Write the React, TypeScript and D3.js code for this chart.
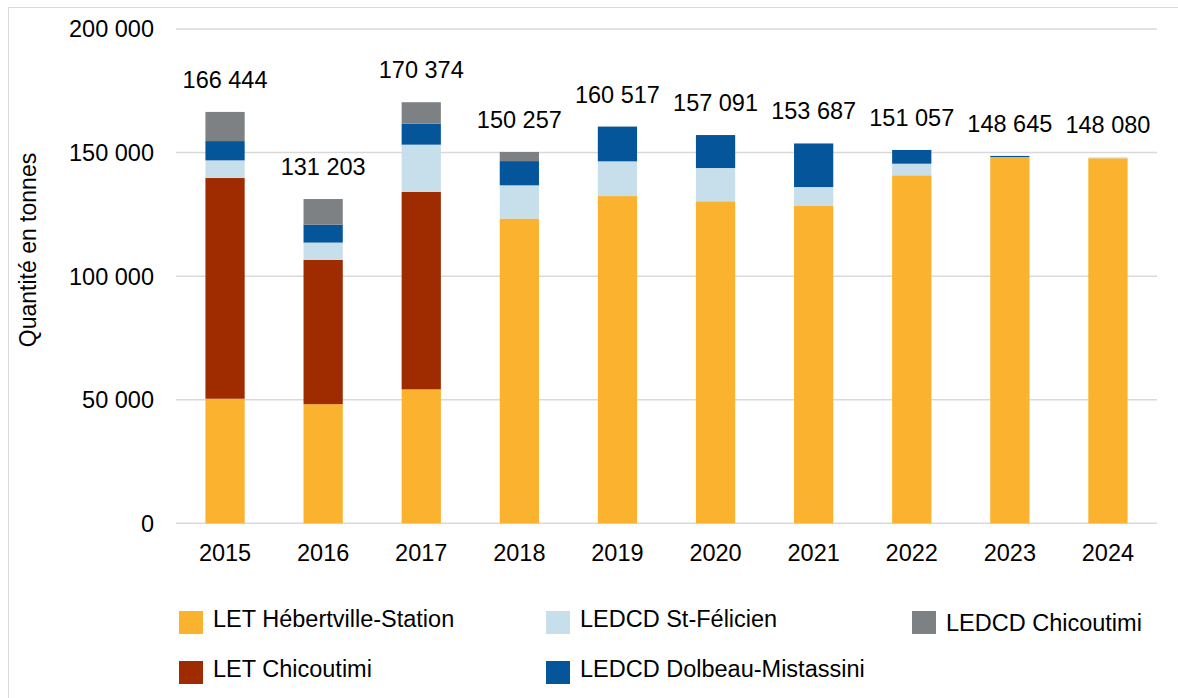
import React from 'react';
import * as d3 from 'd3';

const years = ['2015', '2016', '2017', '2018', '2019', '2020', '2021', '2022', '2023', '2024'];
const hebertville = [50400, 48200, 54200, 123300, 132400, 130300, 128400, 140800, 148200, 147700];
const letChicoutimi = [89300, 58350, 79850, 0, 0, 0, 0, 0, 0, 0];
const stFelicien = [7150, 7030, 19150, 13450, 14050, 13450, 7650, 4700, 0, 380];
const dolbeau = [7800, 7280, 8500, 9800, 14067, 13341, 17637, 5557, 445, 0];
const ledcdChicoutimi = [11794, 10343, 8674, 3707, 0, 0, 0, 0, 0, 0];
const yTicks = [0, 50000, 100000, 150000, 200000];

const seriesNames = [
  'LET Hébertville-Station',
  'LET Chicoutimi',
  'LEDCD St-Félicien',
  'LEDCD Dolbeau-Mistassini',
  'LEDCD Chicoutimi',
];
const seriesValues = [hebertville, letChicoutimi, stFelicien, dolbeau, ledcdChicoutimi];
const colors = ['#FAB22F', '#9E2C00', '#C7DFEA', '#05559A', '#7E8184'];

const W = 1178;
const H = 698;
const FONT = '"Liberation Sans", Arial, sans-serif';

const fmt = d3.formatLocale({ decimal: ',', thousands: ' ', grouping: [3], currency: ['', ' $'] }).format(',d');

export default function App() {
  const rows = years.map((y, i) => {
    const r: Record<string, number | string> = { year: y };
    seriesNames.forEach((n, k) => { r[n] = seriesValues[k][i]; });
    return r;
  });
  const stacked = d3.stack<any>().keys(seriesNames)(rows);
  const totals = years.map((_, i) => d3.sum(seriesValues, s => s[i]));

  const x = d3.scaleBand().domain(years).range([176, 1157]).paddingInner(0.6).paddingOuter(0.3);
  const y = d3.scaleLinear().domain([0, 200000]).range([523.3, 29]);

  // legend layout: [column, row]
  const legendPos: [number, number][] = [[0, 0], [0, 1], [1, 0], [1, 1], [2, 0]];
  const colX = [179, 546, 912];
  const rowY = [611, 661];

  return (
    <div style={{ position: 'absolute', left: 0, top: 0 }}>
      <svg width={W} height={H} style={{ display: 'block', background: '#fff' }} fontFamily={FONT}>
        <rect x={8.5} y={7.5} width={1200} height={720} fill="none" stroke="#d9d9d9" strokeWidth={1} />

        {yTicks.map(t => (
          <g key={t}>
            <line x1={176} x2={1157} y1={y(t)} y2={y(t)} stroke="#d9d9d9" strokeWidth={1.5} />
            <text x={154} y={y(t)} dy="0.36em" textAnchor="end" fontSize={23.5} fill="#000">{fmt(t)}</text>
          </g>
        ))}

        <text transform="translate(35.5,250) rotate(-90)" textAnchor="middle" fontSize={23} fill="#000">
          Quantité en tonnes
        </text>

        {stacked.map((layer, k) => (
          <g key={layer.key} fill={colors[k]}>
            {layer.map((d, i) => {
              const h = y(d[0]) - y(d[1]);
              if (h <= 0) return null;
              return (
                <rect key={i} x={x(years[i])} y={y(d[1])} width={x.bandwidth()} height={h} />
              );
            })}
          </g>
        ))}

        {years.map((yr, i) => (
          <g key={yr}>
            <text x={(x(yr) ?? 0) + x.bandwidth() / 2} y={y(totals[i]) - 24} textAnchor="middle" fontSize={23.5} fill="#000">
              {fmt(totals[i])}
            </text>
            <text x={(x(yr) ?? 0) + x.bandwidth() / 2} y={560.7} textAnchor="middle" fontSize={23.5} fill="#000">
              {yr}
            </text>
          </g>
        ))}

        {seriesNames.map((n, k) => {
          const [c, r] = legendPos[k];
          const lx = colX[c];
          const ly = rowY[r];
          return (
            <g key={n}>
              <rect x={lx} y={ly} width={24} height={23} fill={colors[k]} />
              <text x={lx + 34} y={ly + 15.5 + (c === 2 ? 4 : 0)} fontSize={23.5} fill="#000">{n}</text>
            </g>
          );
        })}
      </svg>
    </div>
  );
}
